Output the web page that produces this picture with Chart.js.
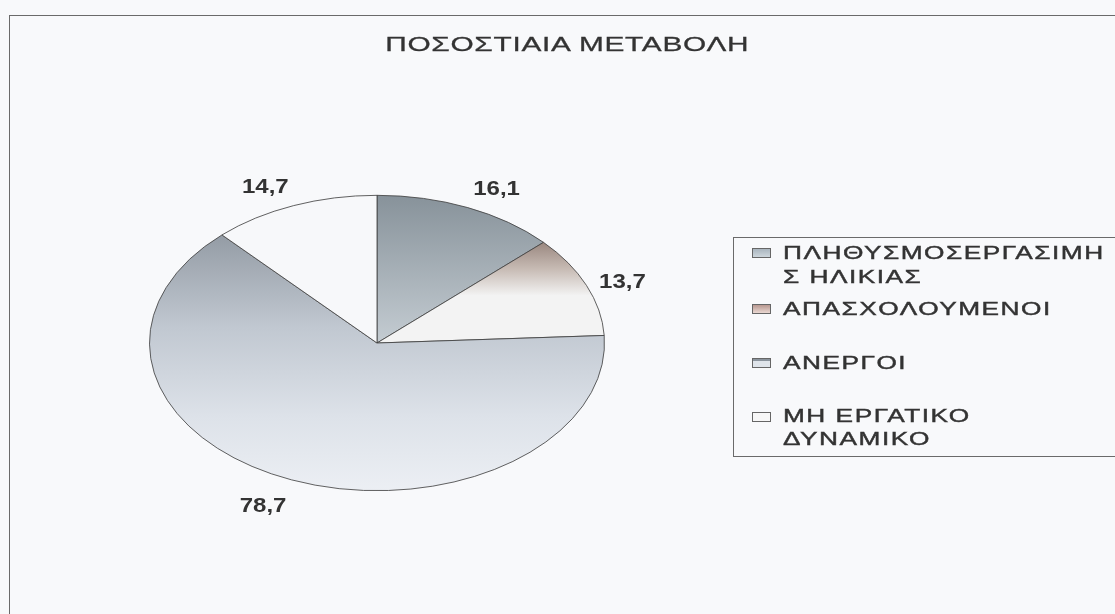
<!DOCTYPE html>
<html>
<head>
<meta charset="utf-8">
<script src="https://cdn.jsdelivr.net/npm/chart.js@4.4.1/dist/chart.umd.min.js"></script>
<style>
    html, body {
        margin: 0;
        padding: 0;
        background: #f8f9fb;
        font-family: "Liberation Sans", Arial, sans-serif;
    }
    #page {
        position: relative;
        width: 1115px;
        height: 614px;
        overflow: hidden;
    }
    #frame {
        position: absolute;
        left: 9px;
        top: 15px;
        width: 1200px;
        height: 700px;
        border-top: 1px solid #6a6a6a;
        border-left: 1px solid #6a6a6a;
    }
    #pie {
        position: absolute;
        left: 0;
        top: 0;
    }
    #title {
        position: absolute;
        left: 10px;
        top: 33px;
        width: 1115px;
        text-align: center;
        font-size: 21px;
        line-height: 21px;
        color: #333;
        white-space: nowrap;
        -webkit-text-stroke: 0.3px #333;
    }
    #title span {
        display: inline-block;
        letter-spacing: 0.5px;
        transform: scaleX(1.42);
    }
    #legend {
        position: absolute;
        left: 733px;
        top: 237px;
        width: 420px;
        height: 218px;
        border: 1px solid #6a6a6a;
    }
    .item {
        position: absolute;
        left: 0;
        font-size: 17.5px;
        line-height: 24px;
        color: #333;
        white-space: nowrap;
        -webkit-text-stroke: 0.4px #333;
    }
    .item .sw {
        position: absolute;
        left: 18px;
        top: 7px;
        width: 17px;
        height: 8px;
        border: 1px solid #666;
    }
    .item .txt {
        position: absolute;
        left: 49px;
        top: 0;
        letter-spacing: 1px;
        transform: scaleX(1.5);
        transform-origin: left center;
    }
    .item:nth-child(1) { top: 3px; }
    .item:nth-child(2) { top: 59px; }
    .item:nth-child(3) { top: 113px; }
    .item:nth-child(4) { top: 167px; }
    .item:nth-child(4) .txt { line-height: 23px; }
</style>
</head>
<body>
<div id="page">
    <canvas id="pie" width="1115" height="614"></canvas>
    <div id="frame"></div>
    <div id="title"><span></span></div>
    <div id="legend"></div>
</div>
<script>
const chartTitle = 'ΠΟΣΟΣΤΙΑΙΑ ΜΕΤΑΒΟΛΗ';
const categories = [
    ['ΠΛΗΘΥΣΜΟΣΕΡΓΑΣΙΜΗ', 'Σ ΗΛΙΚΙΑΣ'],
    ['ΑΠΑΣΧΟΛΟΥΜΕΝΟΙ'],
    ['ΑΝΕΡΓΟΙ'],
    ['ΜΗ ΕΡΓΑΤΙΚΟ', 'ΔΥΝΑΜΙΚΟ'],
];
const values = [16.1, 13.7, 78.7, 14.7];
const valueLabels = ['16,1', '13,7', '78,7', '14,7'];

// vertical gradient stops per slice (0 = top of pie, 1 = bottom)
const sliceStops = [
    [[0, '#87929a'], [0.5, '#c4ccd2']],
    [[0.15, '#95827a'], [0.25, '#c7bbb4'], [0.34, '#f3f3f3'], [1, '#f3f3f3']],
    [[0.12, '#929aa3'], [0.45, '#c1c8d1'], [0.75, '#dde2e9'], [1, '#eceff4']],
    [[0, '#f7f8fa'], [1, '#f7f8fa']],
];
const swatchColors = [
    'linear-gradient(#a9b5be, #cdd6dc)',
    'linear-gradient(#b89890, #ead8d2)',
    'linear-gradient(#8a939c 0 25%, #dfe4ea 25%)',
    '#f7f7f7',
];

const squash = 148 / 228;

const sliceFill = (ctx) => {
    const chart = ctx.chart;
    const area = chart.chartArea;
    const stops = sliceStops[ctx.dataIndex] || [[0, '#ccc'], [1, '#ccc']];
    if (!area) {
        return stops[0][1];
    }
    const g = chart.ctx.createLinearGradient(0, area.top, 0, area.bottom);
    for (const [pos, color] of stops) {
        g.addColorStop(pos, color);
    }
    return g;
};

// squash the round pie into an ellipse
const ellipsePlugin = {
    id: 'ellipse',
    beforeDatasetsDraw(chart) {
        const arc = chart.getDatasetMeta(0).data[0];
        if (!arc) return;
        const ctx = chart.ctx;
        ctx.save();
        ctx.translate(arc.x, arc.y);
        ctx.scale(1, squash);
        ctx.translate(-arc.x, -arc.y);
    },
    afterDatasetsDraw(chart) {
        const ctx = chart.ctx;
        ctx.restore();

        const meta = chart.getDatasetMeta(0);
        ctx.save();
        ctx.fillStyle = '#333';
        ctx.font = 'bold 20px "Liberation Sans", Arial, sans-serif';
        meta.data.forEach((arc, i) => {
            const { x, y, startAngle, endAngle, outerRadius } = arc.getProps(
                ['x', 'y', 'startAngle', 'endAngle', 'outerRadius'], true);
            const mid = (startAngle + endAngle) / 2;
            const cos = Math.cos(mid);
            const sin = Math.sin(mid);
            const r = outerRadius * 1.06;
            let px = x + cos * r;
            let py = y + sin * r * squash;
            ctx.textAlign = cos >= 0 ? 'left' : 'right';
            if (Math.abs(sin) < 0.5) {
                ctx.textBaseline = 'middle';
            } else if (sin < 0) {
                ctx.textBaseline = 'bottom';
            } else {
                ctx.textBaseline = 'top';
                py += 8;
            }
            ctx.save();
            ctx.translate(px, py);
            ctx.scale(1.2, 1);
            ctx.fillText(valueLabels[i], 0, 0);
            ctx.restore();
        });
        ctx.restore();
    },
};

new Chart(document.getElementById('pie'), {
    type: 'pie',
    data: {
        labels: categories.map((c) => c.join(' ')),
        datasets: [{
            data: values,
            backgroundColor: sliceFill,
            borderColor: '#3f3f3f',
            borderWidth: 1,
        }],
    },
    options: {
        responsive: false,
        devicePixelRatio: 1,
        animation: false,
        layout: {
            padding: { left: 149, right: 510, top: 115, bottom: 43 },
        },
        plugins: {
            legend: { display: false },
            title: { display: false },
            tooltip: { enabled: false },
        },
    },
    plugins: [ellipsePlugin],
});

document.querySelector('#title span').textContent = chartTitle;

const legend = document.getElementById('legend');
categories.forEach((lines, i) => {
    const item = document.createElement('div');
    item.className = 'item';
    const sw = document.createElement('div');
    sw.className = 'sw';
    sw.style.background = swatchColors[i];
    const txt = document.createElement('div');
    txt.className = 'txt';
    txt.innerHTML = lines.map((l) => l.replace(/&/g, '&amp;').replace(/</g, '&lt;')).join('<br>');
    item.appendChild(sw);
    item.appendChild(txt);
    legend.appendChild(item);
});
</script>
</body>
</html>
